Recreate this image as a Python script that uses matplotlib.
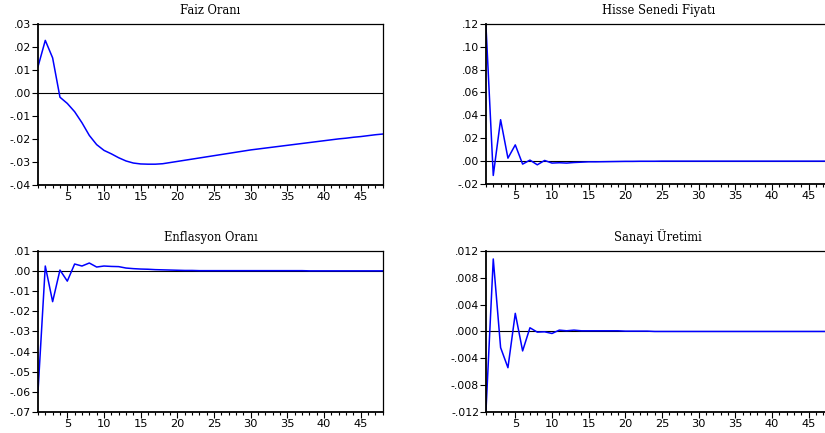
import numpy as np
import matplotlib.pyplot as plt
from matplotlib.ticker import MultipleLocator

periods = list(range(1, 49))

faiz = [0.0113, 0.0228, 0.0152, -0.0019, -0.0046, -0.0082, -0.0130, -0.0185, -0.0225, -0.0250,
        -0.0265, -0.0282, -0.0296, -0.0305, -0.0309, -0.0310, -0.0310, -0.0308, -0.0303, -0.0298,
        -0.0293, -0.0288, -0.0283, -0.0278, -0.0273, -0.0268, -0.0263, -0.0258, -0.0253, -0.0248,
        -0.0244, -0.0240, -0.0236, -0.0232, -0.0228, -0.0224, -0.0220, -0.0216, -0.0212, -0.0208,
        -0.0204, -0.0200, -0.0197, -0.0193, -0.0190, -0.0186, -0.0182, -0.0179]

hisse = [0.1190, -0.0125, 0.0362, 0.0026, 0.0142, -0.0026, 0.0009, -0.0032, 0.0006, -0.0017,
         -0.0014, -0.0017, -0.0012, -0.0009, -0.0006, -0.0006, -0.0005, -0.0004, -0.0003, -0.0002,
         -0.0002, -0.0001, -0.0001, -0.0001, 0.0, 0.0, 0.0, 0.0, 0.0, 0.0,
         0.0, 0.0, 0.0, 0.0, 0.0, 0.0, 0.0, 0.0, 0.0, 0.0,
         0.0, 0.0, 0.0, 0.0, 0.0, 0.0, 0.0, 0.0]

enflasyon = [-0.0603, 0.0025, -0.0152, 0.0005, -0.0050, 0.0035, 0.0025, 0.0040, 0.0020, 0.0025,
             0.0023, 0.0022, 0.0015, 0.0012, 0.0010, 0.0009, 0.0007, 0.0006, 0.0005, 0.0004,
             0.0003, 0.0003, 0.0002, 0.0002, 0.0002, 0.0002, 0.0002, 0.0002, 0.0002, 0.0002,
             0.0002, 0.0002, 0.0002, 0.0002, 0.0002, 0.0002, 0.0002, 0.0001, 0.0001, 0.0001,
             0.0001, 0.0001, 0.0001, 0.0001, 0.0001, 0.0001, 0.0001, 0.0001]

sanayi = [-0.0120, 0.0108, -0.0024, -0.0054, 0.0027, -0.0029, 0.00055, -0.0001, -0.00005, -0.0003,
          0.0002, 0.0001, 0.0002, 0.0001, 0.0001, 0.0001, 0.0001, 0.0001, 0.0001, 0.00005,
          0.00005, 0.00005, 0.00005, 0.0, 0.0, 0.0, 0.0, 0.0, 0.0, 0.0,
          0.0, 0.0, 0.0, 0.0, 0.0, 0.0, 0.0, 0.0, 0.0, 0.0,
          0.0, 0.0, 0.0, 0.0, 0.0, 0.0, 0.0, 0.0]

titles = ["Faiz Oranı", "Hisse Senedi Fiyatı", "Enflasyon Oranı", "Sanayi Üretimi"]
series = [faiz, hisse, enflasyon, sanayi]

yticks = [
    [0.03, 0.02, 0.01, 0.0, -0.01, -0.02, -0.03, -0.04],
    [0.12, 0.10, 0.08, 0.06, 0.04, 0.02, 0.0, -0.02],
    [0.01, 0.0, -0.01, -0.02, -0.03, -0.04, -0.05, -0.06, -0.07],
    [0.012, 0.008, 0.004, 0.0, -0.004, -0.008, -0.012],
]
ylabels = [
    [".03", ".02", ".01", ".00", "-.01", "-.02", "-.03", "-.04"],
    [".12", ".10", ".08", ".06", ".04", ".02", ".00", "-.02"],
    [".01", ".00", "-.01", "-.02", "-.03", "-.04", "-.05", "-.06", "-.07"],
    [".012", ".008", ".004", ".000", "-.004", "-.008", "-.012"],
]
xticks = [5, 10, 15, 20, 25, 30, 35, 40, 45]

# axes boxes in figure fractions (right column runs past the edge, as in the original)
positions = [
    [0.046, 0.573, 0.418, 0.372],
    [0.589, 0.575, 0.418, 0.370],
    [0.046, 0.0485, 0.418, 0.372],
    [0.589, 0.0485, 0.418, 0.372],
]

fig = plt.figure(figsize=(8.25, 4.33), dpi=100)

for i in range(4):
    ax = fig.add_axes(positions[i])
    ax.plot(periods, series[i], color='#0000ff', linewidth=1.1)
    ax.axhline(0, color='black', linewidth=0.8, zorder=1)
    ax.set_xlim(1, 48)
    ax.set_ylim(yticks[i][-1], yticks[i][0])
    ax.set_yticks(yticks[i])
    ax.set_yticklabels(ylabels[i], fontsize=7.8, family='DejaVu Sans')
    ax.set_xticks(xticks)
    ax.set_xticklabels([str(t) for t in xticks], fontsize=8.2, family='DejaVu Sans')
    ax.xaxis.set_minor_locator(MultipleLocator(1))
    ax.tick_params(axis='x', which='major', direction='out', length=4, width=0.8, pad=1)
    ax.tick_params(axis='x', which='minor', direction='out', length=2.5, width=0.8)
    ax.tick_params(axis='y', direction='out', length=4, width=0.8, pad=1)
    for side in ['left', 'bottom']:
        ax.spines[side].set_linewidth(1.3)
    for side in ['top', 'right']:
        ax.spines[side].set_linewidth(0.9)
    ax.set_title(titles[i], fontsize=8.3, family='DejaVu Serif', pad=7)

fig.savefig('out.png', dpi=100)
